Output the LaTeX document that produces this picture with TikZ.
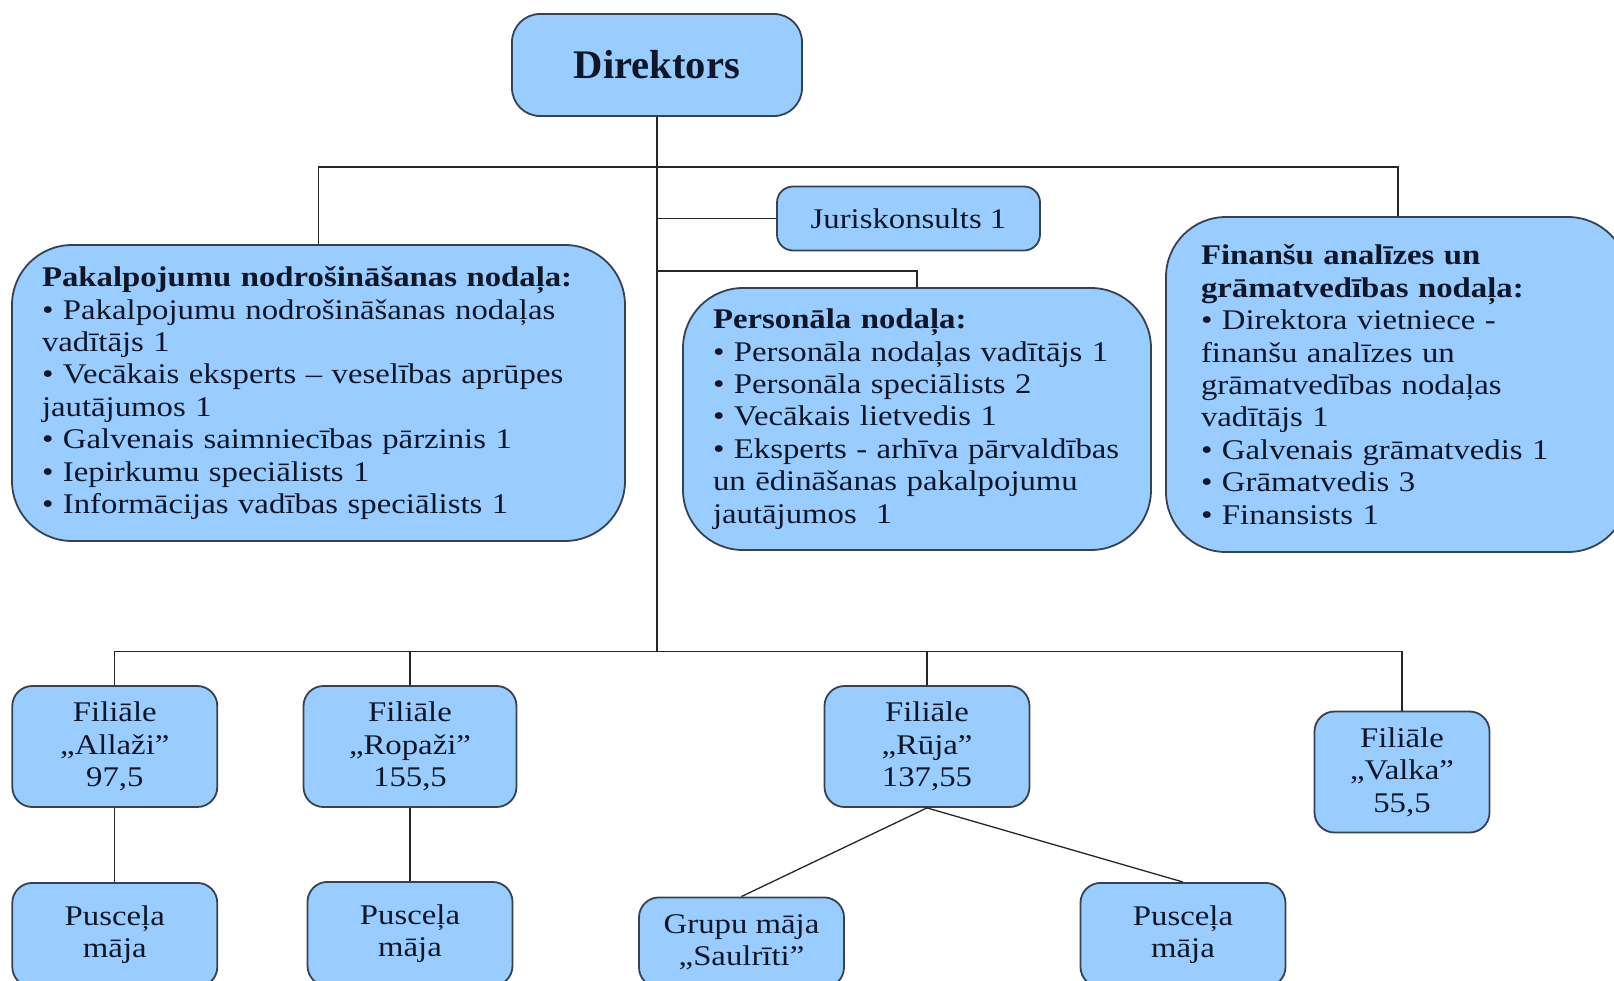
\documentclass[tikz,border=0pt]{standalone}
\usepackage{fontspec}
\setmainfont{Liberation Serif}[FakeStretch=1.15]
\newfontfamily\headfont{Liberation Serif}
\usepackage{xcolor}
\usetikzlibrary{positioning}
\definecolor{boxfill}{RGB}{153,204,255}
\definecolor{boxline}{RGB}{52,66,84}
\definecolor{boxtext}{RGB}{14,22,40}
\tikzset{
  box/.style={draw=boxline,fill=boxfill,text=boxtext,line width=0.9pt,rounded corners=10pt,
    align=center,inner sep=0pt,font=\fontsize{14.25}{16.2}\selectfont},
  dept/.style={box,rounded corners=30pt,align=left,inner xsep=15pt},
  branch/.style={box,minimum width=102.5pt,minimum height=60.5pt},
  house/.style={box,minimum width=102.5pt,anchor=north},
  link/.style={line width=0.65pt,draw=black!85}
}

\begin{document}
\begin{tikzpicture}[x=0.5pt,y=-0.5pt]
  \useasboundingbox (0,0) rectangle (1614,981);
  \clip (0,0) rectangle (1614,981);

  \node[box,rounded corners=14pt,minimum width=145pt,minimum height=51pt,
    font=\headfont\bfseries\fontsize{20.3}{24}\selectfont] (dir) at (657,65) {Direktors};
  \node[box,rounded corners=8pt,minimum width=131.5pt,minimum height=32pt] (jur) at (908.5,218.5) {Juriskonsults 1};

  \node[dept,text width=276.5pt,minimum height=148pt] (pak) at (318.5,393)
    {\textbf{Pakalpojumu nodrošināšanas nodaļa:}\\
     • Pakalpojumu nodrošināšanas nodaļas\\ vadītājs 1\\
     • Vecākais eksperts – veselības aprūpes\\ jautājumos 1\\
     • Galvenais saimniecības pārzinis 1\\
     • Iepirkumu speciālists 1\\
     • Informācijas vadības speciālists 1};
  \node[dept,text width=204pt,minimum height=131pt] (pers) at (917,419)
    {\textbf{Personāla nodaļa:}\\
     • Personāla nodaļas vadītājs 1\\
     • Personāla speciālists 2\\
     • Vecākais lietvedis 1\\
     • Eksperts - arhīva pārvaldības\\ un ēdināšanas pakalpojumu\\ jautājumos\ \ 1};
  \node[dept,inner xsep=17.5pt,text width=196pt,minimum height=167.5pt] (fin) at (1397,384.5)
    {\textbf{Finanšu analīzes un}\\ \textbf{grāmatvedības nodaļa:}\\
     • Direktora vietniece -\\ finanšu analīzes un\\ grāmatvedības nodaļas\\ vadītājs 1\\
     • Galvenais grāmatvedis 1\\
     • Grāmatvedis 3\\
     • Finansists 1};

  \node[branch] (allazi) at (114.8,746.5) {Filiāle\\„Allaži”\\97,5};
  \node[branch,minimum width=106.5pt] (ropazi) at (410,746.5) {Filiāle\\„Ropaži”\\155,5};
  \node[branch] (ruja) at (927,746.5) {Filiāle\\„Rūja”\\137,55};
  \node[branch,minimum width=87.5pt] (valka) at (1402,772) {Filiāle\\„Valka”\\55,5};

  \node[house,minimum height=52pt] (pusAllazi) at (114.8,882) {Pusceļa\\māja};
  \node[house,minimum height=52pt] (pusRopazi) at (410,881) {Pusceļa\\māja};
  \node[house,minimum height=45pt] (grupu) at (741.5,896.5) {Grupu māja\\„Saulrīti”};
  \node[house,minimum height=52pt] (pusRuja) at (1183,882) {Pusceļa\\māja};

  \coordinate (busR) at (1398,167);
  \coordinate (persTap) at (657,271);
  \coordinate (hub) at (657,651.5);

  \draw[link] (dir.south) -- (hub);
  \draw[link] (pak.north) |- (busR) -- (fin.north -| busR);
  \draw[link] (jur.west) -- (jur.west -| dir.south);
  \draw[link] (persTap) -| (pers.north);
  \draw[link] (allazi.north) |- (hub) -| (valka.north);
  \foreach \n in {ropazi,ruja}
    \draw[link] (\n.north) -- (\n.north |- hub);
  \foreach \from/\to in {allazi/pusAllazi,ropazi/pusRopazi,ruja/grupu,ruja/pusRuja}
    \draw[link] (\from.south) -- (\to.north);

\end{tikzpicture}
\end{document}
